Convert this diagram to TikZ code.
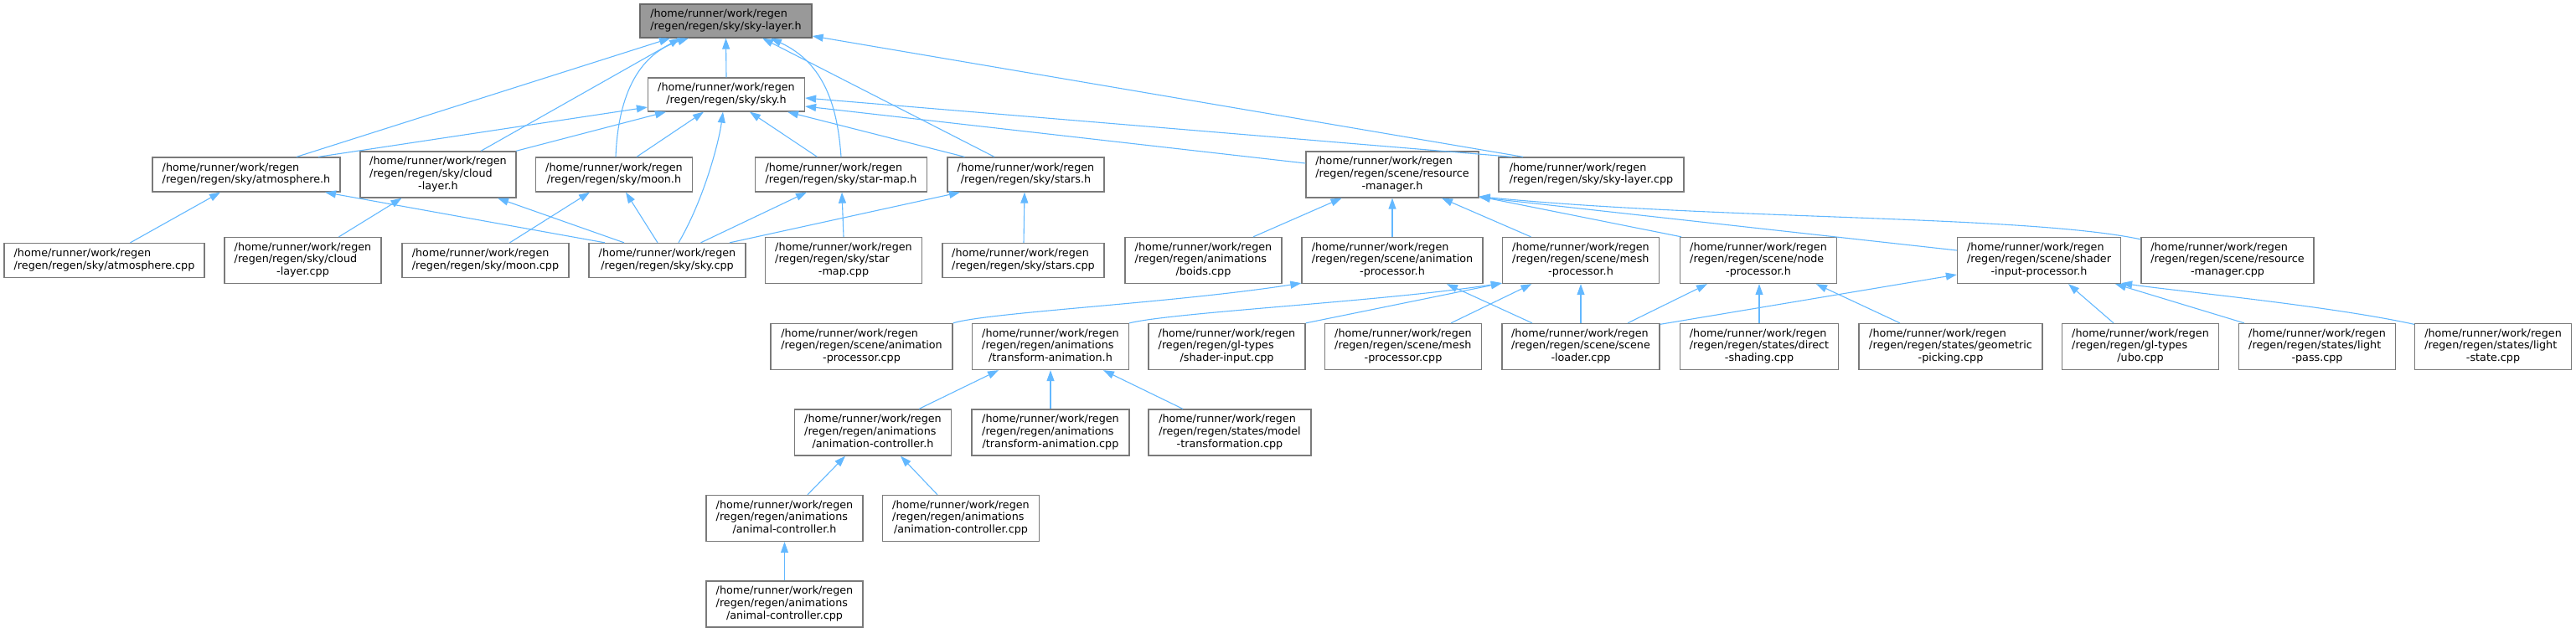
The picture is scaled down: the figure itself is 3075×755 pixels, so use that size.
\documentclass[tikz,border=0pt]{standalone}
\usepackage{fontspec}
\setmainfont{DejaVu Sans}
\usetikzlibrary{arrows.meta,calc}
\definecolor{edgec}{HTML}{63B8FF}
\definecolor{bord}{HTML}{7A7A7A}
\definecolor{rootfill}{HTML}{999999}
\newcommand{\twol}[2]{\begin{tabular}{@{}l@{}}#1\\\multicolumn{1}{@{}c@{}}{#2}\end{tabular}}
\newcommand{\thrl}[3]{\begin{tabular}{@{}l@{}}#1\\#2\\\multicolumn{1}{@{}c@{}}{#3}\end{tabular}}
\newcommand{\hmpath}{/home/runner/work/regen}
\begin{document}
\begin{tikzpicture}[x=1pt,y=-1pt,
 box/.style={draw=bord,line width=1.3pt,fill=white,inner sep=0pt,font=\fontsize{12.75pt}{14.7pt}\selectfont},
 rootbox/.style={box,fill=rootfill,draw=bord!85!black},
 two/.style={minimum height=41pt},
 three/.style={minimum height=55pt},
 inc/.style={draw=edgec,line width=1.1pt,-{Triangle[length=13pt,width=9pt]}}]
\useasboundingbox (0,0) rectangle (3075,755);
% row 0
\node[rootbox,minimum width=205pt,minimum height=40pt] (skylayerh) at (866.5,25) {\twol{\hmpath}{/regen/regen/sky/sky-layer.h}};
% row 1
\node[box,minimum width=187pt,minimum height=40pt] (skyh) at (867,113) {\twol{\hmpath}{/regen/regen/sky/sky.h}};
% row 2
\node[box,two,minimum width=224pt] (atmh) at (294,208.5) {\twol{\hmpath}{/regen/regen/sky/atmosphere.h}};
\node[box,three,minimum width=186pt] (cloudh) at (523,208.5) {\thrl{\hmpath}{/regen/regen/sky/cloud}{-layer.h}};
\node[box,two,minimum width=187pt] (moonh) at (733,208.5) {\twol{\hmpath}{/regen/regen/sky/moon.h}};
\node[box,two,minimum width=205pt] (starmaph) at (1004,208.5) {\twol{\hmpath}{/regen/regen/sky/star-map.h}};
\node[box,two,minimum width=187pt] (starsh) at (1224.5,208.5) {\twol{\hmpath}{/regen/regen/sky/stars.h}};
\node[box,three,minimum width=206pt] (resmgrh) at (1662,208.5) {\thrl{\hmpath}{/regen/regen/scene/resource}{-manager.h}};
\node[box,two,minimum width=221pt] (skylayercpp) at (1899.5,208.5) {\twol{\hmpath}{/regen/regen/sky/sky-layer.cpp}};
% row 3
\node[box,two,minimum width=239pt] (atmcpp) at (124.5,311) {\twol{\hmpath}{/regen/regen/sky/atmosphere.cpp}};
\node[box,three,minimum width=187pt] (cloudcpp) at (361.5,311) {\thrl{\hmpath}{/regen/regen/sky/cloud}{-layer.cpp}};
\node[box,two,minimum width=199pt] (mooncpp) at (579.5,311) {\twol{\hmpath}{/regen/regen/sky/moon.cpp}};
\node[box,two,minimum width=187pt] (skycpp) at (796.5,311) {\twol{\hmpath}{/regen/regen/sky/sky.cpp}};
\node[box,three,minimum width=187pt] (starmapcpp) at (1007,311) {\thrl{\hmpath}{/regen/regen/sky/star}{-map.cpp}};
\node[box,two,minimum width=193pt] (starscpp) at (1221.5,311) {\twol{\hmpath}{/regen/regen/sky/stars.cpp}};
\node[box,three,minimum width=187pt] (boids) at (1436.5,311) {\thrl{\hmpath}{/regen/regen/animations}{/boids.cpp}};
\node[box,three,minimum width=216pt] (animproch) at (1662,311) {\thrl{\hmpath}{/regen/regen/scene/animation}{-processor.h}};
\node[box,three,minimum width=187pt] (meshproch) at (1887,311) {\thrl{\hmpath}{/regen/regen/scene/mesh}{-processor.h}};
\node[box,three,minimum width=187pt] (nodeproch) at (2099,311) {\thrl{\hmpath}{/regen/regen/scene/node}{-processor.h}};
\node[box,three,minimum width=195pt] (shaderinproch) at (2434,311) {\thrl{\hmpath}{/regen/regen/scene/shader}{-input-processor.h}};
\node[box,three,minimum width=206pt] (resmgrcpp) at (2659,311) {\thrl{\hmpath}{/regen/regen/scene/resource}{-manager.cpp}};
% row 4
\node[box,three,minimum width=217pt] (animproccpp) at (1028.5,414) {\thrl{\hmpath}{/regen/regen/scene/animation}{-processor.cpp}};
\node[box,three,minimum width=187pt] (transanimh) at (1254,414) {\thrl{\hmpath}{/regen/regen/animations}{/transform-animation.h}};
\node[box,three,minimum width=187pt] (shaderincpp) at (1464.5,414) {\thrl{\hmpath}{/regen/regen/gl-types}{/shader-input.cpp}};
\node[box,three,minimum width=187pt] (meshproccpp) at (1675,414) {\thrl{\hmpath}{/regen/regen/scene/mesh}{-processor.cpp}};
\node[box,three,minimum width=188pt] (sceneloadercpp) at (1887,414) {\thrl{\hmpath}{/regen/regen/scene/scene}{-loader.cpp}};
\node[box,three,minimum width=189pt] (directcpp) at (2100,414) {\thrl{\hmpath}{/regen/regen/states/direct}{-shading.cpp}};
\node[box,three,minimum width=219pt] (geomcpp) at (2328.5,414) {\thrl{\hmpath}{/regen/regen/states/geometric}{-picking.cpp}};
\node[box,three,minimum width=187pt] (ubocpp) at (2555,414) {\thrl{\hmpath}{/regen/regen/gl-types}{/ubo.cpp}};
\node[box,three,minimum width=187pt] (lightpasscpp) at (2766,414) {\thrl{\hmpath}{/regen/regen/states/light}{-pass.cpp}};
\node[box,three,minimum width=187pt] (lightstatecpp) at (2976,414) {\thrl{\hmpath}{/regen/regen/states/light}{-state.cpp}};
% row 5
\node[box,three,minimum width=187pt] (animctrlh) at (1042,516.5) {\thrl{\hmpath}{/regen/regen/animations}{/animation-controller.h}};
\node[box,three,minimum width=188pt] (transanimcpp) at (1254,516.5) {\thrl{\hmpath}{/regen/regen/animations}{/transform-animation.cpp}};
\node[box,three,minimum width=194pt] (modeltranscpp) at (1468,516.5) {\thrl{\hmpath}{/regen/regen/states/model}{-transformation.cpp}};
% row 6
\node[box,three,minimum width=187pt] (animalctrlh) at (936.5,619) {\thrl{\hmpath}{/regen/regen/animations}{/animal-controller.h}};
\node[box,three,minimum width=187pt] (animctrlcpp) at (1147,619) {\thrl{\hmpath}{/regen/regen/animations}{/animation-controller.cpp}};
% row 7
\node[box,three,minimum width=187pt] (animalctrlcpp) at (936.5,721.5) {\thrl{\hmpath}{/regen/regen/animations}{/animal-controller.cpp}};

% ---- edges into sky-layer.h
\draw[inc] (skyh.north) -- (skylayerh.south);
\draw[inc] ($(atmh.north)+(60,0)$) -- ($(skylayerh.south)+(-66.5,0)$);
\draw[inc] ($(cloudh.north)+(51,0)$) -- ($(skylayerh.south)+(-54.5,0)$);
\draw[inc] ($(moonh.north)+(2,0)$) .. controls +(3,-78) and +(-57,18) .. ($(skylayerh.south)+(-44.5,0)$);
\draw[inc] (starmaph.north) .. controls +(-4,-58) and +(65,30) .. ($(skylayerh.south)+(53.5,0)$);
\draw[inc] ($(starsh.north)+(-37.5,0)$) -- ($(skylayerh.south)+(43.5,0)$);
\draw[inc] ($(skylayercpp.north)+(-81.5,0)$) -- ($(skylayerh.east)+(0,18)$);
% ---- edges into sky.h
\draw[inc] ($(atmh.north)+(86,0)$) -- ($(skyh.west)+(0,15)$);
\draw[inc] ($(cloudh.north)+(93,0)$) -- ($(skyh.south)+(-72,0)$);
\draw[inc] ($(moonh.north)+(27,0)$) -- ($(skyh.south)+(-27,0)$);
\draw[inc] ($(skycpp.north)+(13.5,0)$) .. controls +(30,-51) and +(-5,37) .. ($(skyh.south)+(-4,0)$);
\draw[inc] ($(starmaph.north)+(-28.5,0)$) -- ($(skyh.south)+(28,0)$);
\draw[inc] ($(starsh.north)+(-73,0)$) -- ($(skyh.south)+(73,0)$);
\draw[inc] ($(skylayercpp.north)+(-94.5,0)$) -- ($(skyh.east)+(0,4)$);
\draw[inc] ($(resmgrh.west)+(0,-13.5)$) -- ($(skyh.east)+(0,14)$);
% ---- sky.cpp and siblings
\draw[inc] ($(atmcpp.north)+(31,0)$) -- ($(atmh.south)+(-31,0)$);
\draw[inc] ($(skycpp.north)+(-74.5,0)$) -- ($(atmh.south)+(94,0)$);
\draw[inc] ($(cloudcpp.north)+(43,0)$) -- ($(cloudh.south)+(-43.5,0)$);
\draw[inc] ($(skycpp.north)+(-51.5,0)$) -- ($(cloudh.south)+(71,0)$);
\draw[inc] ($(mooncpp.north)+(29,0)$) -- ($(moonh.south)+(-29,0)$);
\draw[inc] ($(skycpp.north)+(-11.5,0)$) -- ($(moonh.south)+(14,0)$);
\draw[inc] ($(skycpp.north)+(40,0)$) -- ($(starmaph.south)+(-41,0)$);
\draw[inc] (starmapcpp.north) -- ($(starmaph.south)+(1,0)$);
\draw[inc] ($(skycpp.north)+(74.5,0)$) -- ($(starsh.south)+(-78.5,0)$);
\draw[inc] ($(starscpp.north)+(0.5,0)$) -- ($(starsh.south)+(-1.5,0)$);
% ---- into resource-manager.h
\draw[inc] ($(boids.north)+(59.5,0)$) -- ($(resmgrh.south)+(-60.5,0)$);
\draw[inc] (animproch.north) -- (resmgrh.south);
\draw[inc] ($(meshproch.north)+(-59.5,0)$) -- ($(resmgrh.south)+(59,0)$);
\draw[inc] ($(nodeproch.north)+(-92,0)$) -- ($(resmgrh.south east)+(0,-2)$);
\draw[inc] ($(shaderinproch.west)+(0,-12)$) -- ($(resmgrh.south east)+(0,-1)$);
\draw[inc] ($(resmgrcpp.north west)+(0,3)$) .. controls +(-136,-29) and +(283,28) .. ($(resmgrh.south east)+(0,-2)$);
% ---- into animation-processor.h
\draw[inc] (animproccpp.north east) .. controls +(43,-13) and +(-154,24) .. ($(animproch.south west)+(0,-1)$);
\draw[inc] ($(sceneloadercpp.north)+(-58,0)$) -- ($(animproch.south)+(65,0)$);
% ---- into mesh-processor.h
\draw[inc] (transanimh.north east) .. controls +(53,-13) and +(-143,22) .. ($(meshproch.south west)+(0,-1)$);
\draw[inc] (shaderincpp.north east) -- ($(meshproch.south west)+(0,-1)$);
\draw[inc] ($(meshproccpp.north)+(57,0)$) -- ($(meshproch.south)+(-58.5,0)$);
\draw[inc] (sceneloadercpp.north) -- (meshproch.south);
% ---- into node-processor.h
\draw[inc] ($(sceneloadercpp.north)+(56,0)$) -- ($(nodeproch.south)+(-61,0)$);
\draw[inc] (directcpp.north) -- ($(nodeproch.south)+(1,0)$);
\draw[inc] ($(geomcpp.north)+(-60.5,0)$) -- ($(nodeproch.south)+(69,0)$);
% ---- into shader-input-processor.h
\draw[inc] ($(sceneloadercpp.north east)+(0,1.5)$) -- ($(shaderinproch.west)+(0,17)$);
\draw[inc] ($(ubocpp.north)+(-32,0)$) -- ($(shaderinproch.south)+(35,0)$);
\draw[inc] ($(lightpasscpp.north)+(-87,0)$) -- ($(shaderinproch.south)+(91,0)$);
\draw[inc] ($(lightstatecpp.north west)+(0,1.5)$) .. controls +(-100,-22) and +(70,10) .. ($(shaderinproch.south east)+(0,-1)$);
% ---- into transform-animation.h
\draw[inc] ($(animctrlh.north)+(55,0)$) -- ($(transanimh.south)+(-62,0)$);
\draw[inc] (transanimcpp.north) -- (transanimh.south);
\draw[inc] ($(modeltranscpp.north)+(-56,0)$) -- ($(transanimh.south)+(63,0)$);
% ---- into animation-controller.h
\draw[inc] ($(animalctrlh.north)+(27.5,0)$) -- ($(animctrlh.south)+(-33,0)$);
\draw[inc] ($(animctrlcpp.north)+(-28,0)$) -- ($(animctrlh.south)+(33,0)$);
% ---- into animal-controller.h
\draw[inc] (animalctrlcpp.north) -- (animalctrlh.south);
\end{tikzpicture}
\end{document}
